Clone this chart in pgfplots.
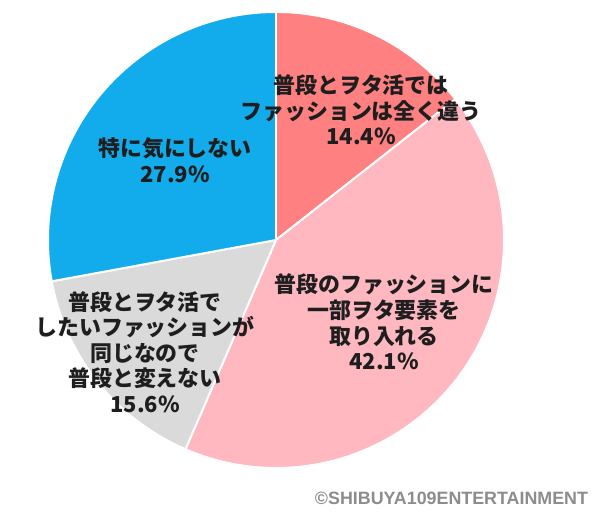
\documentclass[border=0pt]{standalone}
\usepackage{pgfplots}
\pgfplotsset{compat=1.18}
\usepackage{pgfplotstable}
\usepackage{fontspec}
\setmainfont{Liberation Sans}
\newfontfamily\jp{Noto Sans CJK JP}

\definecolor{sliceA}{RGB}{255,128,128}
\definecolor{sliceB}{RGB}{255,184,192}
\definecolor{sliceC}{RGB}{218,218,218}
\definecolor{sliceD}{RGB}{18,172,236}
\definecolor{labtxt}{RGB}{30,30,30}
\definecolor{copytxt}{RGB}{140,140,140}

% share of each answer, clockwise from 12 o'clock
\pgfplotstableread{
value color
14.4 sliceA
42.1 sliceB
15.6 sliceC
27.9 sliceD
}\piedata

\begin{document}
\begin{tikzpicture}
\begin{axis}[
  scale only axis,
  width=15cm, height=13cm,
  xmin=0, xmax=600, ymin=0, ymax=520,
  hide axis,
]
\pgfplotstablegetrowsof{\piedata}
\pgfmathtruncatemacro\nrows{\pgfplotsretval-1}
\def\cum{0}
\pgfplotsforeachungrouped \i in {0,...,\nrows}{%
  \pgfplotstablegetelem{\i}{value}\of\piedata \let\v\pgfplotsretval
  \pgfplotstablegetelem{\i}{color}\of\piedata \let\c\pgfplotsretval
  \pgfmathsetmacro\a{90-3.6*\cum}
  \pgfmathsetmacro\b{90-3.6*(\cum+\v)}
  \edef\doit{\noexpand\fill[\c, draw=white, line width=1.4pt, line join=round]
    (axis cs:276,280) -- ++(\a:5.7cm) arc[start angle=\a, end angle=\b, radius=5.7cm] -- cycle;}
  \doit
  \pgfmathsetmacro\cum{\cum+\v}
}

\tikzset{lab/.style={align=center, text=labtxt, font=\jp\bfseries\fontsize{15.6}{18.2}\selectfont}}
\node[lab] at (axis cs:361,410) {普段とヲタ活では\\ファッションは全く違う\\14.4\%};
\node[lab] at (axis cs:384,198) {普段のファッションに\\一部ヲタ要素を\\取り入れる\\42.1\%};
\node[lab] at (axis cs:145,168) {普段とヲタ活で\\したいファッションが\\同じなので\\普段と変えない\\15.6\%};
\node[lab] at (axis cs:175,360) {特に気にしない\\27.9\%};
\node[anchor=east, text=copytxt, font=\bfseries\fontsize{12.7}{14}\selectfont] at (axis cs:593,22) {©SHIBUYA109ENTERTAINMENT};
\end{axis}
\path (current axis.south west) rectangle (current axis.north east);
\end{tikzpicture}
\end{document}
